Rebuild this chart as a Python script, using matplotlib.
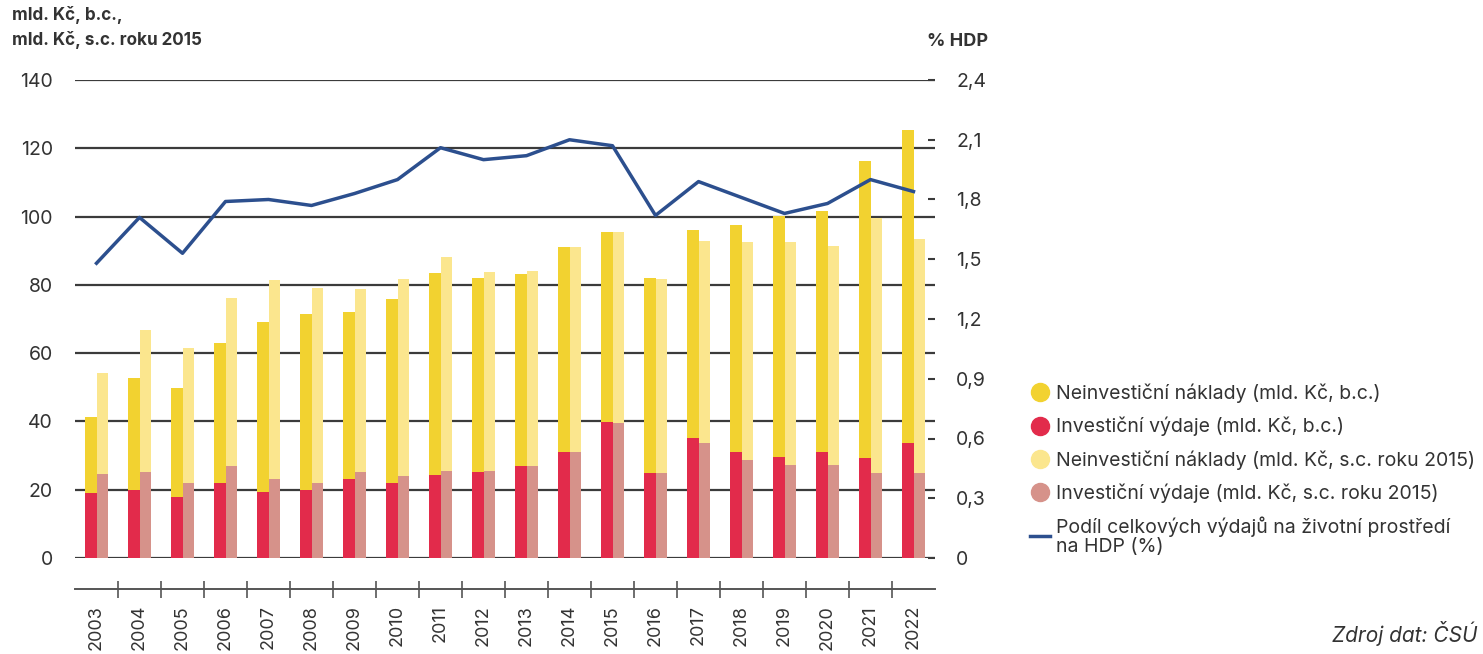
import matplotlib
matplotlib.use("Agg")
import matplotlib.pyplot as plt
from matplotlib.lines import Line2D
import numpy as np

plt.rcParams['font.family'] = ['Inter', 'DejaVu Sans']

years = [str(y) for y in range(2003, 2023)]
invest_bc = [18.9, 19.9, 18.0, 22.1, 19.4, 19.9, 23.0, 22.1, 24.3, 25.1,
             26.9, 31.1, 39.9, 25.0, 35.2, 30.9, 29.7, 30.9, 29.2, 33.6]
noninvest_bc = [22.5, 32.8, 31.8, 40.9, 49.7, 51.6, 49.1, 53.8, 59.3, 56.8,
                56.2, 60.1, 55.7, 57.1, 61.0, 66.6, 70.5, 70.7, 87.0, 91.7]
invest_sc = [24.5, 25.1, 22.1, 26.8, 23.0, 21.9, 25.1, 24.0, 25.6, 25.6,
             26.8, 30.9, 39.4, 24.8, 33.6, 28.7, 27.2, 27.2, 24.8, 25.0]
noninvest_sc = [29.6, 41.7, 39.3, 49.3, 58.4, 57.1, 53.6, 57.6, 62.7, 58.1,
                57.2, 60.3, 56.2, 57.0, 59.1, 63.8, 65.3, 64.3, 74.9, 68.5]
share_gdp = [1.48, 1.71, 1.53, 1.79, 1.80, 1.77, 1.83, 1.90, 2.06, 2.00,
             2.02, 2.10, 2.07, 1.72, 1.89, 1.81, 1.73, 1.78, 1.90, 1.84]

left_ticks = [0, 20, 40, 60, 80, 100, 120, 140]
right_ticks = [0, 0.3, 0.6, 0.9, 1.2, 1.5, 1.8, 2.1, 2.4]
right_labels = ["0", "0,3", "0,6", "0,9", "1,2", "1,5", "1,8", "2,1", "2,4"]

legend_labels = [
    "Neinvestiční náklady (mld. Kč, b.c.)",
    "Investiční výdaje (mld. Kč, b.c.)",
    "Neinvestiční náklady (mld. Kč, s.c. roku 2015)",
    "Investiční výdaje (mld. Kč, s.c. roku 2015)",
    "Podíl celkových výdajů na životní prostředí\nna HDP (%)",
]

c_yel = '#F2D230'
c_red = '#E22B4B'
c_lyel = '#FBE68E'
c_pink = '#D6928A'
c_line = '#2C4F8E'
c_grid = '#3b3b3b'
c_text = '#333333'

W, H = 1483, 654
PT = 0.72  # points per pixel at dpi 100
fig = plt.figure(figsize=(W / 100, H / 100), dpi=100)
ax = fig.add_axes([75 / W, 1 - 558 / H, (935 - 75) / W, (558 - 80) / H])

x = np.arange(len(years))
w = 0.256
ax.bar(x - w / 2, invest_bc, w, color=c_red, zorder=3, linewidth=0)
ax.bar(x - w / 2, noninvest_bc, w, bottom=invest_bc, color=c_yel, zorder=3, linewidth=0)
ax.bar(x + w / 2, invest_sc, w, color=c_pink, zorder=3, linewidth=0)
ax.bar(x + w / 2, noninvest_sc, w, bottom=invest_sc, color=c_lyel, zorder=3, linewidth=0)

ax.set_xlim(-0.5, 19.5)
ax.set_ylim(0, 140)
ax.set_yticks(left_ticks)
ax.set_yticklabels([str(t) for t in left_ticks])
for t in left_ticks:
    ax.axhline(t, color=c_grid, lw=1.6, zorder=1)
ax.tick_params(axis='y', length=0, pad=22 * PT, labelsize=14, labelcolor=c_text)

for s in ['top', 'right', 'left']:
    ax.spines[s].set_visible(False)
ax.spines['bottom'].set_position(('outward', 31 * PT))
ax.spines['bottom'].set_color('#555555')
ax.spines['bottom'].set_linewidth(1.4)
ax.set_xticks(x[:-1] + 0.5)
ax.set_xticklabels([])
ax.set_xticks(x, minor=True)
ax.set_xticklabels(years, minor=True, rotation=90)
ax.tick_params(axis='x', which='major', direction='inout', length=17 * PT, width=1.2, color='#555555')
ax.tick_params(axis='x', which='minor', length=0, pad=16 * PT, labelsize=13, labelcolor=c_text)
for lab in ax.get_xticklabels(minor=True):
    lab.set_va('top')

ax2 = ax.twinx()
ax2.plot(x, share_gdp, color=c_line, lw=2.5, zorder=4)
ax2.set_ylim(0, 2.4)
ax2.set_yticks(right_ticks)
ax2.set_yticklabels(right_labels)
ax2.tick_params(axis='y', direction='in', length=7 * PT, width=1.5, color=c_grid, pad=21 * PT,
                labelsize=14, labelcolor=c_text)
for s in ax2.spines.values():
    s.set_visible(False)

fig.text(12 / W, 1 - 6 / H, "mld. Kč, b.c.,\nmld. Kč, s.c. roku 2015", ha='left', va='top',
         fontsize=12.3, fontweight='bold', color=c_text, linespacing=1.5)
fig.text(988 / W, 1 - 42 / H, "% HDP", ha='right', va='center',
         fontsize=13, fontweight='bold', color=c_text)

handles = [
    Line2D([], [], marker='o', ls='', ms=13, color=c_yel),
    Line2D([], [], marker='o', ls='', ms=13, color=c_red),
    Line2D([], [], marker='o', ls='', ms=13, color=c_lyel),
    Line2D([], [], marker='o', ls='', ms=13, color=c_pink),
    Line2D([], [], color=c_line, lw=2.5),
]
leg = fig.legend(handles, legend_labels, loc='upper left',
                 bbox_to_anchor=(1022 / W, 1 - 376 / H), frameon=False,
                 fontsize=14, handlelength=1.05, handletextpad=0.3,
                 labelspacing=0.7, borderaxespad=0)
for t in leg.get_texts():
    t.set_color(c_text)
    t.set_linespacing(1.1)

fig.text(1478 / W, 1 - 634 / H, "Zdroj dat: ČSÚ", ha='right', va='center',
         fontsize=15, style='italic', color=c_text)

fig.savefig("out.png", dpi=100)
